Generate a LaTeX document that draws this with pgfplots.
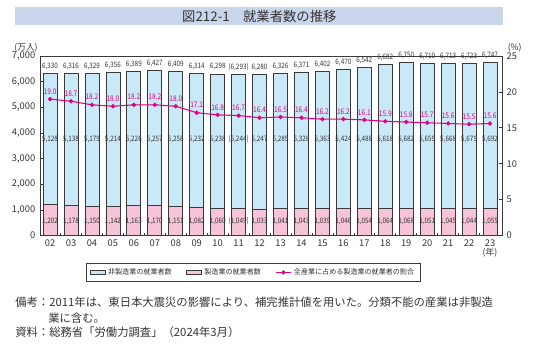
\documentclass[border=0pt]{standalone}
\usepackage{pgfplots}
\pgfplotsset{compat=1.18}
\usepackage{pgfplotstable}
\usepackage{fontspec}
\setmainfont{Noto Sans CJK JP}
\newfontfamily\numfont[FakeStretch=0.85]{Noto Sans CJK JP}
\definecolor{barblue}{HTML}{C9E9F9}
\definecolor{barpink}{HTML}{F7C3D8}
\definecolor{outl}{HTML}{3A3A3A}
\definecolor{mag}{HTML}{E4007F}
\definecolor{banner}{HTML}{C8D5EB}
\definecolor{txt}{HTML}{333333}

\pgfplotstableread{
x non man total pct totlab nonlab manlab
0 5128 1202 6330 19.0 6,330 5,128 1,202
1 5138 1178 6316 18.7 6,316 5,138 1,178
2 5179 1150 6329 18.2 6,329 5,179 1,150
3 5214 1142 6356 18.0 6,356 5,214 1,142
4 5226 1163 6389 18.2 6,389 5,226 1,163
5 5257 1170 6427 18.2 6,427 5,257 1,170
6 5258 1151 6409 18.0 6,409 5,258 1,151
7 5232 1082 6314 17.1 6,314 5,232 1,082
8 5238 1060 6298 16.8 6,298 5,238 1,060
9 5244 1049 6293 16.7 (6,293) (5,244) (1,049)
10 5247 1033 6280 16.4 6,280 5,247 1,033
11 5285 1041 6326 16.5 6,326 5,285 1,041
12 5328 1043 6371 16.4 6,371 5,328 1,043
13 5363 1039 6402 16.2 6,402 5,363 1,039
14 5424 1046 6470 16.2 6,470 5,424 1,046
15 5488 1054 6542 16.1 6,542 5,488 1,054
16 5618 1064 6682 15.9 6,682 5,618 1,064
17 5682 1068 6750 15.8 6,750 5,682 1,068
18 5659 1051 6710 15.7 6,710 5,659 1,051
19 5668 1045 6713 15.6 6,713 5,668 1,045
20 5679 1044 6723 15.5 6,723 5,679 1,044
21 5692 1055 6747 15.6 6,747 5,692 1,055
}\data

\begin{document}
\begin{tikzpicture}
\path[use as bounding box] (0,0) rectangle (402pt,-265.5pt);
% title banner
\fill[banner] (11.25pt,-5.25pt) rectangle (377.25pt,-18.75pt);
\node[text=txt, font=\fontsize{10}{12}\selectfont] at (194.5pt,-12pt) {図212-1　就業者数の推移};
% unit labels
\node[text=txt, font=\fontsize{6.5}{7}\selectfont] at (19.5pt,-35.5pt) {(万人)};
\node[text=txt, font=\fontsize{6.5}{7}\selectfont] at (386pt,-35.5pt) {(\%)};
\node[text=txt, font=\fontsize{6.5}{7}\selectfont] at (367.5pt,-189.5pt) {(年)};

\begin{axis}[
  at={(30pt,-176.6pt)}, anchor=south west,
  scale only axis, width=346.5pt, height=134.6pt,
  xmin=-0.48, xmax=21.57, ymin=0, ymax=7000,
  clip=false,
  axis line style={draw=outl, line width=0.6pt},
  xtick={0,...,21},
  xticklabels={02,03,04,05,06,07,08,09,10,11,12,13,14,15,16,17,18,19,20,21,22,23},
  minor xtick={0.5,1.5,...,20.5},
  major x tick style={draw=none},
  minor tick length=2pt,
  xtick pos=left, ytick pos=left,
  tick align=inside,
  major tick length=2pt,
  tick style={draw=outl, line width=0.5pt},
  ytick={0,1000,...,7000},
  yticklabel style={font=\fontsize{7}{8}\selectfont, text=txt},
  xticklabel style={font=\fontsize{7}{8}\selectfont, text=txt},
  /pgf/number format/.cd, 1000 sep={,}, assume math mode=true,
]
\addplot[ybar, bar shift=0pt, bar width=10.5pt, fill=barblue, draw=outl, line width=0.6pt] table[x=x,y=total]{\data};
\addplot[ybar, bar shift=0pt, bar width=10.5pt, fill=barpink, draw=outl, line width=0.6pt] table[x=x,y=man]{\data};
\addplot[draw=none, mark=none, nodes near coords, point meta=explicit symbolic,
  nodes near coords style={font=\numfont\fontsize{5.6}{6}\selectfont, text=txt, anchor=center, yshift=5.3pt}]
  table[x=x,y=total,meta=totlab]{\data};
\addplot[draw=none, mark=none, nodes near coords, point meta=explicit symbolic,
  nodes near coords style={font=\numfont\fontsize{5.6}{6}\selectfont, text=txt, anchor=center}]
  table[x=x,y expr=3744,meta=nonlab]{\data};
\addplot[draw=none, mark=none, nodes near coords, point meta=explicit symbolic,
  nodes near coords style={font=\numfont\fontsize{5.6}{6}\selectfont, text=txt, anchor=center}]
  table[x=x,y expr=545,meta=manlab]{\data};
\end{axis}

\begin{axis}[
  at={(30pt,-176.6pt)}, anchor=south west,
  scale only axis, width=346.5pt, height=134.6pt,
  xmin=-0.48, xmax=21.57, ymin=0, ymax=25,
  clip=false,
  axis y line*=right, axis x line=none,
  axis line style={draw=outl, line width=0.6pt},
  ytick={0,5,...,25},
  tick align=inside, major tick length=2pt,
  tick style={draw=outl, line width=0.5pt},
  yticklabel style={font=\fontsize{7}{8}\selectfont, text=txt},
  /pgf/number format/assume math mode=true,
  legend columns=3,
  legend style={at={(0.462,-0.206)}, anchor=center, draw=outl, line width=0.6pt, fill=white,
    font=\fontsize{5.3}{6}\selectfont, text=txt, inner xsep=3pt, inner ysep=1.5pt,
    /tikz/every even column/.append style={column sep=9pt}},
  legend cell align=left,
]
\addlegendimage{legend image code/.code={\draw[fill=barblue,draw=outl,line width=0.5pt] (0pt,-1.6pt) rectangle (11pt,1.6pt);}}
\addlegendentry{非製造業の就業者数}
\addlegendimage{legend image code/.code={\draw[fill=barpink,draw=outl,line width=0.5pt] (0pt,-1.6pt) rectangle (11pt,1.6pt);}}
\addlegendentry{製造業の就業者数}
\addplot[mag, line width=0.8pt, mark=*, mark size=1.2pt, mark options={fill=mag, draw=mag},
  nodes near coords, point meta=explicit symbolic,
  nodes near coords style={font=\numfont\fontsize{5.8}{6}\selectfont, text=mag, anchor=center, yshift=5.7pt},
  legend image code/.code={\draw[mag, line width=0.8pt] (0pt,0pt) -- (11pt,0pt); \fill[mag] (5.5pt,0pt) circle (1.2pt);}]
  table[x=x,y=pct,meta=pct]{\data};
\addlegendentry{全産業に占める製造業の就業者の割合}
\end{axis}

% notes
\node[anchor=west, text=txt, font=\fontsize{8.5}{10}\selectfont, inner sep=0pt] at (11.25pt,-226.5pt) {備考：2011年は、東日本大震災の影響により、補完推計値を用いた。分類不能の産業は非製造};
\node[anchor=west, text=txt, font=\fontsize{8.5}{10}\selectfont, inner sep=0pt] at (36pt,-238.5pt) {業に含む。};
\node[anchor=west, text=txt, font=\fontsize{8.5}{10}\selectfont, inner sep=0pt] at (11.25pt,-249pt) {資料：総務省「労働力調査」（2024年3月）};
\end{tikzpicture}
\end{document}
